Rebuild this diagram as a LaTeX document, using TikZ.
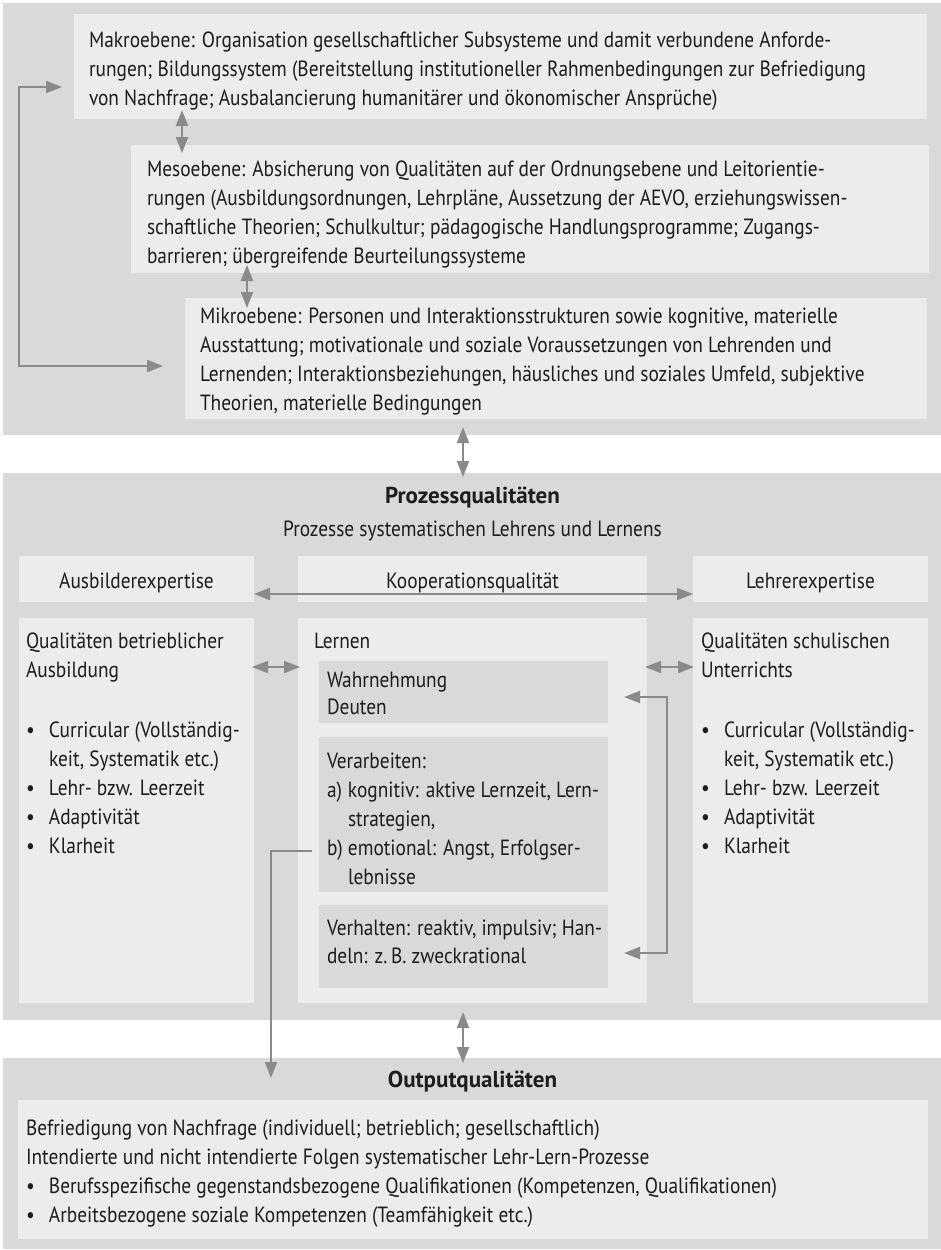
\documentclass[tikz,border=0pt]{standalone}
\usepackage{fontspec}
\setmainfont{PT Sans}[FakeStretch=0.88]
\newfontfamily\ttlfont{PT Sans}
\usetikzlibrary{arrows.meta}
\definecolor{panelgray}{RGB}{217,217,217}
\definecolor{boxgray}{RGB}{236,236,236}
\definecolor{arrowgray}{RGB}{138,138,138}
\definecolor{textc}{RGB}{30,28,28}
\newcommand\mysz{\fontsize{22}{29}\selectfont}
\newcommand\bul{\makebox[23pt][l]{\textbullet}}
\newcommand\ind{\hspace*{23pt}}
\tikzset{
  box/.style={inner sep=0pt, outer sep=0pt, anchor=north west, draw=none},
  pbox/.style={box, fill=panelgray},
  ibox/.style={box, fill=boxgray},
  txt/.style={anchor=north west, inner sep=0pt, outer sep=0pt, align=left, font=\mysz, text=textc},
  lbl/.style={anchor=base, inner sep=0pt, outer sep=0pt, font=\mysz, text=textc},
  ttl/.style={anchor=base, inner sep=0pt, outer sep=0pt, font=\ttlfont\fontsize{23}{29}\selectfont\bfseries, text=textc},
  con/.style={draw=arrowgray, line width=2pt},
  dbl/.style={con, arrows={Triangle[length=16pt,width=12pt]-Triangle[length=16pt,width=12pt]}},
  sgl/.style={con, arrows={-Triangle[length=16pt,width=12pt]}}
}
\begin{document}
\begin{tikzpicture}[x=1pt,y=-1pt]
\useasboundingbox (0,0) rectangle (940,1250);
% panels
\node[pbox, minimum width=940pt, minimum height=432pt] (toppanel) at (3,3) {};
\node[pbox, minimum width=940pt, minimum height=547pt] (midpanel) at (3,473) {};
\node[pbox, minimum width=940pt, minimum height=191pt] (outpanel) at (3,1058) {};
% top boxes
\node[ibox, minimum width=853pt, minimum height=105pt] (makro) at (74,14) {};
\node[ibox, minimum width=798pt, minimum height=128pt] (meso) at (131,145) {};
\node[ibox, minimum width=742pt, minimum height=121pt] (mikro) at (185,298) {};
% middle boxes
\node[ibox, minimum width=235pt, minimum height=46pt] (ausb) at (19,556) {};
\node[ibox, minimum width=349pt, minimum height=46pt] (koop) at (298,556) {};
\node[ibox, minimum width=235pt, minimum height=46pt] (lehr) at (693,556) {};
\node[ibox, minimum width=235pt, minimum height=385pt] (ausbq) at (19,618) {};
\node[ibox, minimum width=349pt, minimum height=385pt] (lernen) at (298,618) {};
\node[ibox, minimum width=235pt, minimum height=385pt] (lehrq) at (693,618) {};
\node[pbox, minimum width=289pt, minimum height=62pt] (wahr) at (319,661) {};
\node[pbox, minimum width=289pt, minimum height=155pt] (verarb) at (319,737) {};
\node[pbox, minimum width=289pt, minimum height=83pt] (verh) at (319,905) {};
% output box
\node[ibox, minimum width=910pt, minimum height=139pt] (outbox) at (18,1100) {};

% connectors
\draw[dbl, shorten <=-9pt, shorten >=-8pt] (182,0 |- makro.south) -- (182,0 |- meso.north);
\draw[dbl, shorten <=-8pt, shorten >=-10pt] (247,0 |- meso.south) -- (247,0 |- mikro.north);
\draw[dbl, shorten <=-8pt, shorten >=-4pt] (463,0 |- toppanel.south) -- (463,0 |- midpanel.north);
\draw[dbl, shorten <=-8pt, shorten >=-5pt] (463,0 |- midpanel.south) -- (463,0 |- outpanel.north);
\draw[dbl] ([shift={(-12pt,-20.5pt)}]makro.west) -| ([shift={(-166pt,-7.5pt)}]mikro.west) -- ([shift={(-22pt,-7.5pt)}]mikro.west);
\draw[dbl] ([yshift=-15pt]ausb.east) -- ([yshift=-15pt]lehr.west);
\draw[dbl, shorten <=-2pt, shorten >=-2pt] ([yshift=-49pt]ausbq.north east) -- ([yshift=-49pt]lernen.north west);
\draw[dbl, shorten <=-2pt, shorten >=-1pt] ([yshift=-49pt]lernen.north east) -- ([yshift=-49pt]lehrq.north west);
\draw[dbl] ([shift={(16pt,-5pt)}]wahr.east) -| ([shift={(59pt,-6.5pt)}]verh.east) -- ([shift={(16pt,-6.5pt)}]verh.east);
\draw[sgl] ([shift={(-7pt,-36.5pt)}]verarb.west) -| ([shift={(268pt,-20pt)}]outpanel.north west);

% texts
\node[txt] (tmakro) at (89,26.7) {\strut Makroebene: Organisation gesellschaftlicher Subsysteme und damit verbundene Anforde-\\
rungen; Bildungssystem (Bereitstellung institutioneller Rahmenbedingungen zur Befriedigung\\
von Nachfrage; Ausbalancierung humanitärer und ökonomischer Ansprüche)};
\node[txt] (tmeso) at (147,155.7) {\strut Mesoebene: Absicherung von Qualitäten auf der Ordnungsebene und Leitorientie-\\
rungen (Ausbildungsordnungen, Lehrpläne, Aussetzung der AEVO, erziehungswissen-\\
schaftliche Theorien; Schulkultur; pädagogische Handlungsprogramme; Zugangs-\\
barrieren; übergreifende Beurteilungssysteme};
\node[txt] (tmikro) at (200,302.7) {\strut Mikroebene: Personen und Interaktionsstrukturen sowie kognitive, materielle\\
Ausstattung; motivationale und soziale Voraussetzungen von Lehrenden und\\
Lernenden; Interaktionsbeziehungen, häusliches und soziales Umfeld, subjektive\\
Theorien, materielle Bedingungen};

\node[ttl] (tproz) at (472.5,503) {Prozessqualitäten};
\node[lbl] (tprozsub) at (472.5,536) {Prozesse systematischen Lehrens und Lernens};
\node[lbl] (tausb) at (136.5,588) {Ausbilderexpertise};
\node[lbl] (tkoop) at (472.5,588) {Kooperationsqualität};
\node[lbl] (tlehr) at (810.5,588) {Lehrerexpertise};

\node[txt] (tausbq) at (26,627.7) {\strut Qualitäten betrieblicher\\
Ausbildung\\[31pt]
\bul Curricular (Vollständig-\\
\ind keit, Systematik etc.)\\
\bul Lehr- bzw. Leerzeit\\
\bul Adaptivität\\
\bul Klarheit};
\node[txt] (tlehrq) at (701,627.7) {\strut Qualitäten schulischen\\
Unterrichts\\[31pt]
\bul Curricular (Vollständig-\\
\ind keit, Systematik etc.)\\
\bul Lehr- bzw. Leerzeit\\
\bul Adaptivität\\
\bul Klarheit};

\node[txt] (tlernen) at (314,627.7) {\strut Lernen};
\node[txt] (twahr) at (327,666.7) {\strut Wahrnehmung\\[-2pt]
Deuten};
\node[txt] (tverarb) at (327,747.7) {\strut Verarbeiten:\\
\makebox[21pt][l]{a)}kognitiv: aktive Lernzeit, Lern-\\
\hspace*{21pt}strategien,\\
\makebox[21pt][l]{b)}emotional: Angst, Erfolgser-\\
\hspace*{21pt}lebnisse};
\node[txt] (tverh) at (327,914.7) {\strut Verhalten: reaktiv, impulsiv; Han-\\[-1pt]
deln: z.\,B. zweckrational};

\node[ttl] (tout) at (472.5,1087) {Outputqualitäten};
\node[txt] (toutt) at (26,1114.7) {\strut Befriedigung von Nachfrage (individuell; betrieblich; gesellschaftlich)\\
Intendierte und nicht intendierte Folgen systematischer Lehr-Lern-Prozesse\\
\bul Berufsspezifische gegenstandsbezogene Qualifikationen (Kompetenzen, Qualifikationen)\\
\bul Arbeitsbezogene soziale Kompetenzen (Teamfähigkeit etc.)};
\end{tikzpicture}
\end{document}
